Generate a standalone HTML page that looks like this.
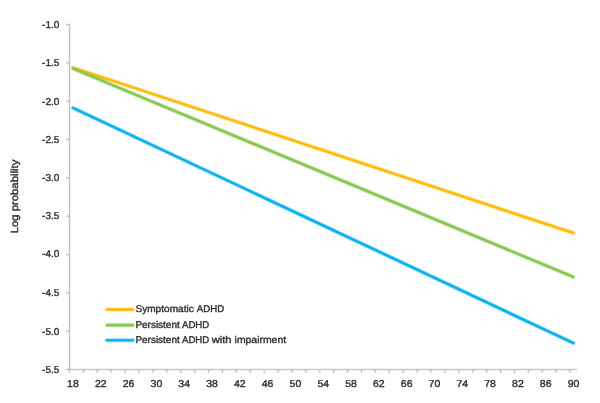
<!DOCTYPE html>
<html><head><meta charset="utf-8"><style>
html,body{margin:0;padding:0;background:#fff;}
body{width:600px;height:403px;overflow:hidden;}
svg{display:block;will-change:transform;}
text{font-family:"Liberation Sans",sans-serif;text-rendering:geometricPrecision;}
.t{fill:#333333;stroke:#333333;stroke-width:0.4px;}
</style></head><body>
<svg width="600" height="403" viewBox="0 0 600 403">
<defs><filter id="sf" filterUnits="userSpaceOnUse" x="0" y="0" width="600" height="403" color-interpolation-filters="sRGB"><feConvolveMatrix order="3" kernelMatrix="0.01917 0.10012 0.01917 0.10012 0.52283 0.10012 0.01917 0.10012 0.01917" preserveAlpha="false"/></filter></defs>
<g filter="url(#sf)">
<g stroke="#adadad" stroke-width="1.1" fill="none">
<line x1="69.5" y1="24" x2="69.5" y2="373"/>
<line x1="66" y1="369.5" x2="577" y2="369.5"/>
<line x1="66" y1="24.5" x2="69" y2="24.5"/>
<line x1="66" y1="62.83" x2="69" y2="62.83"/>
<line x1="66" y1="101.17" x2="69" y2="101.17"/>
<line x1="66" y1="139.5" x2="69" y2="139.5"/>
<line x1="66" y1="177.83" x2="69" y2="177.83"/>
<line x1="66" y1="216.17" x2="69" y2="216.17"/>
<line x1="66" y1="254.5" x2="69" y2="254.5"/>
<line x1="66" y1="292.83" x2="69" y2="292.83"/>
<line x1="66" y1="331.17" x2="69" y2="331.17"/>
<line x1="66" y1="369.5" x2="69" y2="369.5"/>
<line x1="83.4" y1="370" x2="83.4" y2="373"/>
<line x1="97.31" y1="370" x2="97.31" y2="373"/>
<line x1="111.21" y1="370" x2="111.21" y2="373"/>
<line x1="125.12" y1="370" x2="125.12" y2="373"/>
<line x1="139.02" y1="370" x2="139.02" y2="373"/>
<line x1="152.92" y1="370" x2="152.92" y2="373"/>
<line x1="166.83" y1="370" x2="166.83" y2="373"/>
<line x1="180.73" y1="370" x2="180.73" y2="373"/>
<line x1="194.64" y1="370" x2="194.64" y2="373"/>
<line x1="208.54" y1="370" x2="208.54" y2="373"/>
<line x1="222.44" y1="370" x2="222.44" y2="373"/>
<line x1="236.35" y1="370" x2="236.35" y2="373"/>
<line x1="250.25" y1="370" x2="250.25" y2="373"/>
<line x1="264.16" y1="370" x2="264.16" y2="373"/>
<line x1="278.06" y1="370" x2="278.06" y2="373"/>
<line x1="291.96" y1="370" x2="291.96" y2="373"/>
<line x1="305.87" y1="370" x2="305.87" y2="373"/>
<line x1="319.77" y1="370" x2="319.77" y2="373"/>
<line x1="333.68" y1="370" x2="333.68" y2="373"/>
<line x1="347.58" y1="370" x2="347.58" y2="373"/>
<line x1="361.48" y1="370" x2="361.48" y2="373"/>
<line x1="375.39" y1="370" x2="375.39" y2="373"/>
<line x1="389.29" y1="370" x2="389.29" y2="373"/>
<line x1="403.2" y1="370" x2="403.2" y2="373"/>
<line x1="417.1" y1="370" x2="417.1" y2="373"/>
<line x1="431.0" y1="370" x2="431.0" y2="373"/>
<line x1="444.91" y1="370" x2="444.91" y2="373"/>
<line x1="458.81" y1="370" x2="458.81" y2="373"/>
<line x1="472.72" y1="370" x2="472.72" y2="373"/>
<line x1="486.62" y1="370" x2="486.62" y2="373"/>
<line x1="500.52" y1="370" x2="500.52" y2="373"/>
<line x1="514.43" y1="370" x2="514.43" y2="373"/>
<line x1="528.33" y1="370" x2="528.33" y2="373"/>
<line x1="542.24" y1="370" x2="542.24" y2="373"/>
<line x1="556.14" y1="370" x2="556.14" y2="373"/>
<line x1="570.04" y1="370" x2="570.04" y2="373"/>
</g>
<line x1="72.98" y1="67.6" x2="573.52" y2="233.0" stroke="#ffb900" stroke-width="3.1" stroke-linecap="round"/>
<line x1="72.98" y1="68.6" x2="573.52" y2="277.0" stroke="#84c64a" stroke-width="3.1" stroke-linecap="round"/>
<line x1="72.98" y1="107.8" x2="573.52" y2="343.2" stroke="#00aeef" stroke-width="3.1" stroke-linecap="round"/>
<line x1="106.8" y1="309.50" x2="133" y2="309.50" stroke="#ffb900" stroke-width="3.1" stroke-linecap="round"/>
<line x1="106.8" y1="325.10" x2="133" y2="325.10" stroke="#84c64a" stroke-width="3.1" stroke-linecap="round"/>
<line x1="106.8" y1="340.20" x2="133" y2="340.20" stroke="#00aeef" stroke-width="3.1" stroke-linecap="round"/>
</g>
<g class="t">
<text x="59.3" y="28.00" text-anchor="end" textLength="17.2" lengthAdjust="spacingAndGlyphs" style="font-size:10.0px">-1.0</text>
<text x="59.3" y="66.33" text-anchor="end" textLength="17.2" lengthAdjust="spacingAndGlyphs" style="font-size:10.0px">-1.5</text>
<text x="59.3" y="104.57" text-anchor="end" textLength="17.2" lengthAdjust="spacingAndGlyphs" style="font-size:10.0px">-2.0</text>
<text x="59.3" y="142.65" text-anchor="end" textLength="17.2" lengthAdjust="spacingAndGlyphs" style="font-size:10.0px">-2.5</text>
<text x="59.3" y="180.73" text-anchor="end" textLength="17.2" lengthAdjust="spacingAndGlyphs" style="font-size:10.0px">-3.0</text>
<text x="59.3" y="219.02" text-anchor="end" textLength="17.2" lengthAdjust="spacingAndGlyphs" style="font-size:10.0px">-3.5</text>
<text x="59.3" y="257.30" text-anchor="end" textLength="17.2" lengthAdjust="spacingAndGlyphs" style="font-size:10.0px">-4.0</text>
<text x="59.3" y="295.73" text-anchor="end" textLength="17.2" lengthAdjust="spacingAndGlyphs" style="font-size:10.0px">-4.5</text>
<text x="59.3" y="334.52" text-anchor="end" textLength="17.2" lengthAdjust="spacingAndGlyphs" style="font-size:10.0px">-5.0</text>
<text x="59.3" y="372.95" text-anchor="end" textLength="17.2" lengthAdjust="spacingAndGlyphs" style="font-size:10.0px">-5.5</text>
<text x="72.98" y="387.2" text-anchor="middle" textLength="11.68" lengthAdjust="spacingAndGlyphs" style="font-size:10.0px">18</text>
<text x="100.78" y="387.2" text-anchor="middle" textLength="11.68" lengthAdjust="spacingAndGlyphs" style="font-size:10.0px">22</text>
<text x="128.59" y="387.2" text-anchor="middle" textLength="11.68" lengthAdjust="spacingAndGlyphs" style="font-size:10.0px">26</text>
<text x="156.40" y="387.2" text-anchor="middle" textLength="11.68" lengthAdjust="spacingAndGlyphs" style="font-size:10.0px">30</text>
<text x="184.21" y="387.2" text-anchor="middle" textLength="11.68" lengthAdjust="spacingAndGlyphs" style="font-size:10.0px">34</text>
<text x="212.02" y="387.2" text-anchor="middle" textLength="11.68" lengthAdjust="spacingAndGlyphs" style="font-size:10.0px">38</text>
<text x="239.82" y="387.2" text-anchor="middle" textLength="11.68" lengthAdjust="spacingAndGlyphs" style="font-size:10.0px">42</text>
<text x="267.63" y="387.2" text-anchor="middle" textLength="11.68" lengthAdjust="spacingAndGlyphs" style="font-size:10.0px">46</text>
<text x="295.44" y="387.2" text-anchor="middle" textLength="11.68" lengthAdjust="spacingAndGlyphs" style="font-size:10.0px">50</text>
<text x="323.25" y="387.2" text-anchor="middle" textLength="11.68" lengthAdjust="spacingAndGlyphs" style="font-size:10.0px">54</text>
<text x="351.06" y="387.2" text-anchor="middle" textLength="11.68" lengthAdjust="spacingAndGlyphs" style="font-size:10.0px">58</text>
<text x="378.86" y="387.2" text-anchor="middle" textLength="11.68" lengthAdjust="spacingAndGlyphs" style="font-size:10.0px">62</text>
<text x="406.67" y="387.2" text-anchor="middle" textLength="11.68" lengthAdjust="spacingAndGlyphs" style="font-size:10.0px">66</text>
<text x="434.48" y="387.2" text-anchor="middle" textLength="11.68" lengthAdjust="spacingAndGlyphs" style="font-size:10.0px">70</text>
<text x="462.29" y="387.2" text-anchor="middle" textLength="11.68" lengthAdjust="spacingAndGlyphs" style="font-size:10.0px">74</text>
<text x="490.10" y="387.2" text-anchor="middle" textLength="11.68" lengthAdjust="spacingAndGlyphs" style="font-size:10.0px">78</text>
<text x="517.90" y="387.2" text-anchor="middle" textLength="11.68" lengthAdjust="spacingAndGlyphs" style="font-size:10.0px">82</text>
<text x="545.71" y="387.2" text-anchor="middle" textLength="11.68" lengthAdjust="spacingAndGlyphs" style="font-size:10.0px">86</text>
<text x="573.52" y="387.2" text-anchor="middle" textLength="11.68" lengthAdjust="spacingAndGlyphs" style="font-size:10.0px">90</text>
<text x="135.40" y="312.10" textLength="58.40" lengthAdjust="spacingAndGlyphs" style="font-size:9.8px">Symptomatic</text>
<text x="196.80" y="312.10" textLength="27.30" lengthAdjust="spacingAndGlyphs" style="font-size:9.8px">ADHD</text>
<text x="135.40" y="327.70" textLength="44.30" lengthAdjust="spacingAndGlyphs" style="font-size:9.8px">Persistent</text>
<text x="182.00" y="327.70" textLength="27.20" lengthAdjust="spacingAndGlyphs" style="font-size:9.8px">ADHD</text>
<text x="135.40" y="342.80" textLength="44.30" lengthAdjust="spacingAndGlyphs" style="font-size:9.8px">Persistent</text>
<text x="182.00" y="342.80" textLength="27.20" lengthAdjust="spacingAndGlyphs" style="font-size:9.8px">ADHD</text>
<text x="211.70" y="342.80" textLength="19.90" lengthAdjust="spacingAndGlyphs" style="font-size:9.8px">with</text>
<text x="234.60" y="342.80" textLength="51.50" lengthAdjust="spacingAndGlyphs" style="font-size:9.8px">impairment</text>
<text transform="translate(17.6,196.5) rotate(-90)" text-anchor="middle" textLength="73.6" lengthAdjust="spacingAndGlyphs" style="font-size:10.3px">Log probability</text>
</g>
</svg>
</body></html>
